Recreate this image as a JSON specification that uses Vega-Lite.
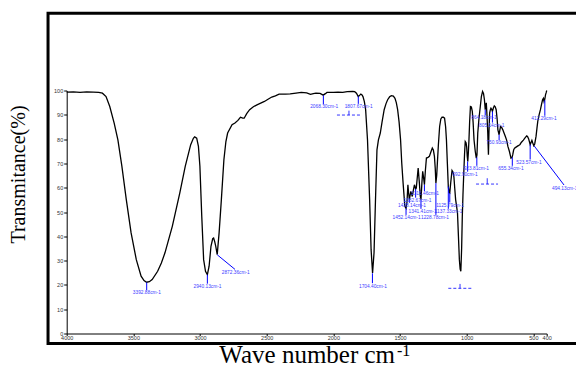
{
  "$schema": "https://vega.github.io/schema/vega-lite/v6.json",
  "autosize": "none",
  "width": 480,
  "height": 243,
  "padding": {"left": 66.7, "top": 90.5, "right": 29.3, "bottom": 34.5},
  "background": "white",
  "config": {"view": {"stroke": null}, "axis": {"grid": false, "labelOverlap": false, "labelFlush": false}},
  "datasets": {
    "spectrum": [
      {"wn":4000,"t":99.3},{"wn":3950,"t":99.4},{"wn":3900,"t":99.2},{"wn":3850,"t":99.4},{"wn":3800,"t":99.3},{"wn":3760,"t":99.2},{"wn":3732,"t":98.9},{"wn":3705,"t":97.5},{"wn":3677,"t":93.4},{"wn":3644,"t":86.6},{"wn":3616,"t":79.7},{"wn":3586,"t":68.8},{"wn":3553,"t":55.1},{"wn":3517,"t":41.4},{"wn":3478,"t":30.4},{"wn":3442,"t":23.6},{"wn":3420,"t":21.8},{"wn":3401,"t":21.1},{"wn":3380,"t":21.3},{"wn":3359,"t":22.2},{"wn":3318,"t":25.6},{"wn":3290,"t":29},{"wn":3263,"t":33.2},{"wn":3208,"t":44.1},{"wn":3152,"t":57.8},{"wn":3111,"t":68.8},{"wn":3070,"t":77.7},{"wn":3050,"t":80.3},{"wn":3040,"t":80.9},{"wn":3025,"t":80.4},{"wn":3012,"t":77},{"wn":3001,"t":68.8},{"wn":2987,"t":48.2},{"wn":2973,"t":30.4},{"wn":2959,"t":25.6},{"wn":2945,"t":24.2},{"wn":2932,"t":27.7},{"wn":2918,"t":35.9},{"wn":2905,"t":39},{"wn":2898,"t":39.3},{"wn":2890,"t":37.8},{"wn":2882,"t":35.9},{"wn":2871,"t":32.5},{"wn":2857,"t":41.4},{"wn":2840,"t":55.1},{"wn":2821,"t":71.5},{"wn":2806,"t":79},{"wn":2793,"t":82.5},{"wn":2760,"t":85.9},{"wn":2738,"t":86.6},{"wn":2716,"t":87.7},{"wn":2697,"t":89},{"wn":2680,"t":88.6},{"wn":2669,"t":88.6},{"wn":2650,"t":90.5},{"wn":2628,"t":92.1},{"wn":2600,"t":93.3},{"wn":2573,"t":94.1},{"wn":2545,"t":94.8},{"wn":2517,"t":95.5},{"wn":2490,"t":96.4},{"wn":2462,"t":97.3},{"wn":2435,"t":97.8},{"wn":2407,"t":98.5},{"wn":2360,"t":98.5},{"wn":2324,"t":98.6},{"wn":2280,"t":98.9},{"wn":2241,"t":99.2},{"wn":2200,"t":99},{"wn":2172,"t":98.4},{"wn":2150,"t":98.7},{"wn":2131,"t":98.9},{"wn":2100,"t":98.8},{"wn":2076,"t":98.1},{"wn":2060,"t":98.7},{"wn":2048,"t":99.2},{"wn":2000,"t":99.2},{"wn":1965,"t":99.3},{"wn":1930,"t":99.2},{"wn":1896,"t":99.5},{"wn":1855,"t":99.6},{"wn":1840,"t":99.5},{"wn":1827,"t":98.9},{"wn":1813,"t":97.5},{"wn":1800,"t":98.2},{"wn":1794,"t":98.5},{"wn":1785,"t":98.2},{"wn":1778,"t":97.5},{"wn":1768,"t":95.5},{"wn":1758,"t":92.1},{"wn":1744,"t":79.7},{"wn":1728,"t":55.1},{"wn":1717,"t":34.5},{"wn":1706,"t":24.9},{"wn":1695,"t":33.2},{"wn":1684,"t":55.1},{"wn":1673,"t":75.6},{"wn":1662,"t":79.7},{"wn":1648,"t":82.5},{"wn":1635,"t":87},{"wn":1619,"t":92.1},{"wn":1605,"t":94.6},{"wn":1593,"t":96.2},{"wn":1578,"t":97.4},{"wn":1565,"t":97.9},{"wn":1550,"t":97.7},{"wn":1538,"t":96.8},{"wn":1528,"t":95},{"wn":1518,"t":92.1},{"wn":1507,"t":87},{"wn":1496,"t":79.7},{"wn":1487,"t":70},{"wn":1477,"t":61.9},{"wn":1464,"t":52.3},{"wn":1455,"t":51.5},{"wn":1448,"t":54},{"wn":1441,"t":61.2},{"wn":1436,"t":58},{"wn":1430,"t":55.1},{"wn":1424,"t":57},{"wn":1419,"t":58.5},{"wn":1408,"t":56.4},{"wn":1400,"t":59},{"wn":1392,"t":61.2},{"wn":1383,"t":59.5},{"wn":1378,"t":59.9},{"wn":1364,"t":68.1},{"wn":1355,"t":62},{"wn":1348,"t":56.5},{"wn":1343,"t":55.1},{"wn":1336,"t":62},{"wn":1330,"t":66.7},{"wn":1322,"t":63.5},{"wn":1317,"t":61.2},{"wn":1310,"t":67},{"wn":1302,"t":72.2},{"wn":1290,"t":72.5},{"wn":1280,"t":72.9},{"wn":1270,"t":74.5},{"wn":1258,"t":76.3},{"wn":1250,"t":75.5},{"wn":1242,"t":72.9},{"wn":1236,"t":68},{"wn":1231,"t":61.9},{"wn":1225,"t":65},{"wn":1220,"t":70.2},{"wn":1212,"t":78},{"wn":1203,"t":85.2},{"wn":1194,"t":88.3},{"wn":1185,"t":89},{"wn":1175,"t":89},{"wn":1166,"t":88.6},{"wn":1158,"t":85},{"wn":1152,"t":79.7},{"wn":1145,"t":70},{"wn":1138,"t":60.5},{"wn":1132,"t":58},{"wn":1127,"t":57.8},{"wn":1120,"t":62},{"wn":1110,"t":67.1},{"wn":1103,"t":66.5},{"wn":1096,"t":64.5},{"wn":1090,"t":60},{"wn":1083,"t":55.1},{"wn":1075,"t":52},{"wn":1069,"t":49.6},{"wn":1062,"t":40},{"wn":1055,"t":30.4},{"wn":1049,"t":26.5},{"wn":1044,"t":25.6},{"wn":1038,"t":35},{"wn":1033,"t":48.2},{"wn":1028,"t":57},{"wn":1022,"t":66},{"wn":1016,"t":74},{"wn":1011,"t":79},{"wn":1005,"t":78.5},{"wn":1000,"t":76.7},{"wn":996,"t":73},{"wn":992,"t":70.8},{"wn":988,"t":74},{"wn":983,"t":79.7},{"wn":978,"t":87},{"wn":972,"t":93.4},{"wn":965,"t":93.2},{"wn":958,"t":91.4},{"wn":952,"t":87},{"wn":945,"t":79.7},{"wn":936,"t":75},{"wn":928,"t":72.2},{"wn":923,"t":73.5},{"wn":917,"t":82.5},{"wn":908,"t":88.5},{"wn":898,"t":93.4},{"wn":890,"t":97.5},{"wn":881,"t":99.6},{"wn":874,"t":98.8},{"wn":867,"t":96.2},{"wn":861,"t":92.1},{"wn":857,"t":94},{"wn":853,"t":94.9},{"wn":848,"t":90},{"wn":842,"t":82.5},{"wn":837,"t":73.6},{"wn":833,"t":83},{"wn":828,"t":90.7},{"wn":823,"t":92},{"wn":818,"t":92.7},{"wn":812,"t":92.2},{"wn":807,"t":91.4},{"wn":800,"t":92.8},{"wn":793,"t":93.7},{"wn":786,"t":93.3},{"wn":779,"t":92.1},{"wn":772,"t":88.5},{"wn":766,"t":83.8},{"wn":757,"t":81.8},{"wn":752,"t":83.5},{"wn":746,"t":85.2},{"wn":738,"t":84.8},{"wn":729,"t":83.8},{"wn":720,"t":82.5},{"wn":710,"t":81.1},{"wn":700,"t":79.5},{"wn":691,"t":77},{"wn":680,"t":75},{"wn":668,"t":72.2},{"wn":660,"t":72.5},{"wn":655,"t":73.5},{"wn":648,"t":75.5},{"wn":641,"t":76.3},{"wn":630,"t":76.7},{"wn":613,"t":77.3},{"wn":600,"t":77.8},{"wn":591,"t":78.6},{"wn":575,"t":79.6},{"wn":564,"t":80.4},{"wn":550,"t":81.3},{"wn":544,"t":81.1},{"wn":536,"t":80.2},{"wn":530,"t":79},{"wn":524,"t":77.7},{"wn":516,"t":78.8},{"wn":511,"t":79.5},{"wn":505,"t":78.5},{"wn":497,"t":77.3},{"wn":490,"t":78},{"wn":480,"t":81.1},{"wn":473,"t":84.5},{"wn":467,"t":87.3},{"wn":457,"t":90},{"wn":447,"t":92.1},{"wn":438,"t":94.5},{"wn":431,"t":96.2},{"wn":425,"t":96.8},{"wn":420,"t":95.5},{"wn":414,"t":96.5},{"wn":409,"t":98.2},{"wn":403,"t":99.3},{"wn":400,"t":100}
    ],
    "peaks": [
      {"wn":3400,"t1":21.0,"wn2":3400,"t2":17.8,"label":"3392.88cm-1","lx":3399,"ly":16.5},
      {"wn":2945,"t1":24.2,"wn2":2945,"t2":20.5,"label":"2940.13cm-1","lx":2944,"ly":19.0},
      {"wn":2871,"t1":32.4,"wn2":2738,"t2":26.4,"label":"2872.36cm-1","lx":2732,"ly":25.0},
      {"wn":2075,"t1":98.0,"wn2":2075,"t2":94.3,"label":"2068.30cm-1","lx":2069,"ly":93.3},
      {"wn":1813,"t1":97.6,"wn2":1813,"t2":94.5,"label":"1807.67cm-1","lx":1810,"ly":93.3},
      {"wn":1707,"t1":24.8,"wn2":1707,"t2":20.7,"label":"1704.40cm-1","lx":1703,"ly":19.0},
      {"wn":1455,"t1":51.5,"wn2":1455,"t2":48.8,"label":"1452.14cm-1","lx":1451,"ly":47.5},
      {"wn":1430,"t1":55.1,"wn2":1430,"t2":53.8,"label":"1428.14cm-1","lx":1410,"ly":52.5},
      {"wn":1383,"t1":59.5,"wn2":1383,"t2":55.9,"label":"1382.67cm-1","lx":1369,"ly":54.6},
      {"wn":1343,"t1":55.1,"wn2":1343,"t2":51.3,"label":"1341.41cm-1","lx":1331,"ly":50.0},
      {"wn":1317,"t1":61.2,"wn2":1317,"t2":58.6,"label":"1315.46cm-1","lx":1313,"ly":57.3},
      {"wn":1231,"t1":61.9,"wn2":1231,"t2":48.8,"label":"1228.78cm-1","lx":1238,"ly":47.5},
      {"wn":1138,"t1":60.5,"wn2":1138,"t2":51.3,"label":"1137.33cm-1","lx":1136,"ly":50.0},
      {"wn":1127,"t1":57.8,"wn2":1127,"t2":53.9,"label":"1125.79cm-1","lx":1125,"ly":52.6},
      {"wn":993,"t1":70.8,"wn2":993,"t2":66.6,"label":"992.90cm-1","lx":1012,"ly":65.2},
      {"wn":924,"t1":72.5,"wn2":924,"t2":69.0,"label":"923.81cm-1","lx":928,"ly":67.6},
      {"wn":861,"t1":92.1,"wn2":861,"t2":89.8,"label":"864.18cm-1","lx":870,"ly":88.6},
      {"wn":807,"t1":91.4,"wn2":807,"t2":86.8,"label":"805.14cm-1","lx":812,"ly":85.5},
      {"wn":757,"t1":81.8,"wn2":757,"t2":79.6,"label":"750.93cm-1","lx":758,"ly":78.3},
      {"wn":658,"t1":72.5,"wn2":658,"t2":69.0,"label":"655.34cm-1","lx":668,"ly":67.6},
      {"wn":524,"t1":77.7,"wn2":524,"t2":71.6,"label":"523.57cm-1","lx":533,"ly":70.3},
      {"wn":494,"t1":77.2,"wn2":270,"t2":61.1,"label":"494.13cm-1","lx":265,"ly":59.3},
      {"wn":414,"t1":96.0,"wn2":414,"t2":89.6,"label":"412.29cm-1","lx":420,"ly":88.3}
    ],
    "markers": [
      {"a":1973,"b":1788,"y":89.9,"c":1883,"yt":91.7},
      {"a":930,"b":765,"y":61.5,"c":846,"yt":63.9},
      {"a":1138,"b":955,"y":18.6,"c":1050,"yt":20.4}
    ]
  },
  "layer": [
    {
      "data": {"name": "spectrum"},
      "mark": {"type": "line", "color": "black", "strokeWidth": 1.3},
      "encoding": {
        "x": {"field": "wn", "type": "quantitative", "scale": {"domain": [4000, 400], "nice": false, "zero": false},
          "axis": {"values": [4000, 3500, 3000, 2500, 2000, 1500, 1000, 500, 400], "tickCount": 20, "format": "d", "labelFontSize": 5.5, "labelFont": "Liberation Sans", "labelColor": "#333", "labelPadding": 0, "labelOverlap": false, "labelFlush": false, "tickSize": 2, "tickColor": "black", "domainColor": "black", "title": "Wave number cm", "titleFont": "Liberation Serif", "titleFontSize": 25, "titleFontWeight": "normal", "titleColor": "black", "titleBaseline": "alphabetic", "titleY": 29}},
        "y": {"field": "t", "type": "quantitative", "scale": {"domain": [0, 100], "nice": false, "zero": false},
          "axis": {"values": [0, 10, 20, 30, 40, 50, 60, 70, 80, 90, 100], "tickCount": 20, "format": "d", "labelFontSize": 5.5, "labelFont": "Liberation Sans", "labelColor": "#333", "labelPadding": 1, "labelOverlap": false, "labelFlush": false, "tickSize": 3, "tickColor": "black", "domainColor": "black", "title": "Transmitance(%)", "titleFont": "Liberation Serif", "titleFontSize": 20, "titleFontWeight": "normal", "titleColor": "black", "titleBaseline": "alphabetic", "titleAlign": "center", "titleAngle": -90, "titleX": -42.2, "titleY": 83.5}}
      }
    },
    {
      "data": {"values": [{}]},
      "mark": {"type": "rect", "filled": false, "stroke": "black", "strokeWidth": 3},
      "encoding": {
        "x": {"datum": 4140, "type": "quantitative"},
        "x2": {"datum": -200},
        "y": {"datum": 131.8, "type": "quantitative"},
        "y2": {"datum": -4.1}
      }
    },
    {
      "data": {"name": "peaks"},
      "mark": {"type": "rule", "color": "#0000ff", "strokeWidth": 1},
      "encoding": {
        "x": {"field": "wn", "type": "quantitative"},
        "x2": {"field": "wn2"},
        "y": {"field": "t1", "type": "quantitative"},
        "y2": {"field": "t2"}
      }
    },
    {
      "data": {"name": "peaks"},
      "mark": {"type": "text", "color": "#4040ff", "fontSize": 4.8, "font": "Liberation Sans", "baseline": "middle", "align": "center"},
      "encoding": {
        "x": {"field": "lx", "type": "quantitative"},
        "y": {"field": "ly", "type": "quantitative"},
        "text": {"field": "label"}
      }
    },
    {
      "data": {"name": "markers"},
      "mark": {"type": "rule", "color": "#0000ff", "strokeWidth": 0.8, "strokeDash": [3, 2]},
      "encoding": {
        "x": {"field": "a", "type": "quantitative"},
        "x2": {"field": "b"},
        "y": {"field": "y", "type": "quantitative"}
      }
    },
    {
      "data": {"name": "markers"},
      "mark": {"type": "rule", "color": "#0000ff", "strokeWidth": 0.8},
      "encoding": {
        "x": {"field": "c", "type": "quantitative"},
        "y": {"field": "y", "type": "quantitative"},
        "y2": {"field": "yt"}
      }
    },
    {
      "data": {"values": [{}]},
      "mark": {"type": "text", "text": "-1", "font": "Liberation Serif", "fontSize": 16, "color": "black", "align": "left", "baseline": "alphabetic"},
      "encoding": {
        "x": {"datum": 1523, "type": "quantitative"},
        "y": {"datum": -9.26, "type": "quantitative"}
      }
    }
  ]
}
